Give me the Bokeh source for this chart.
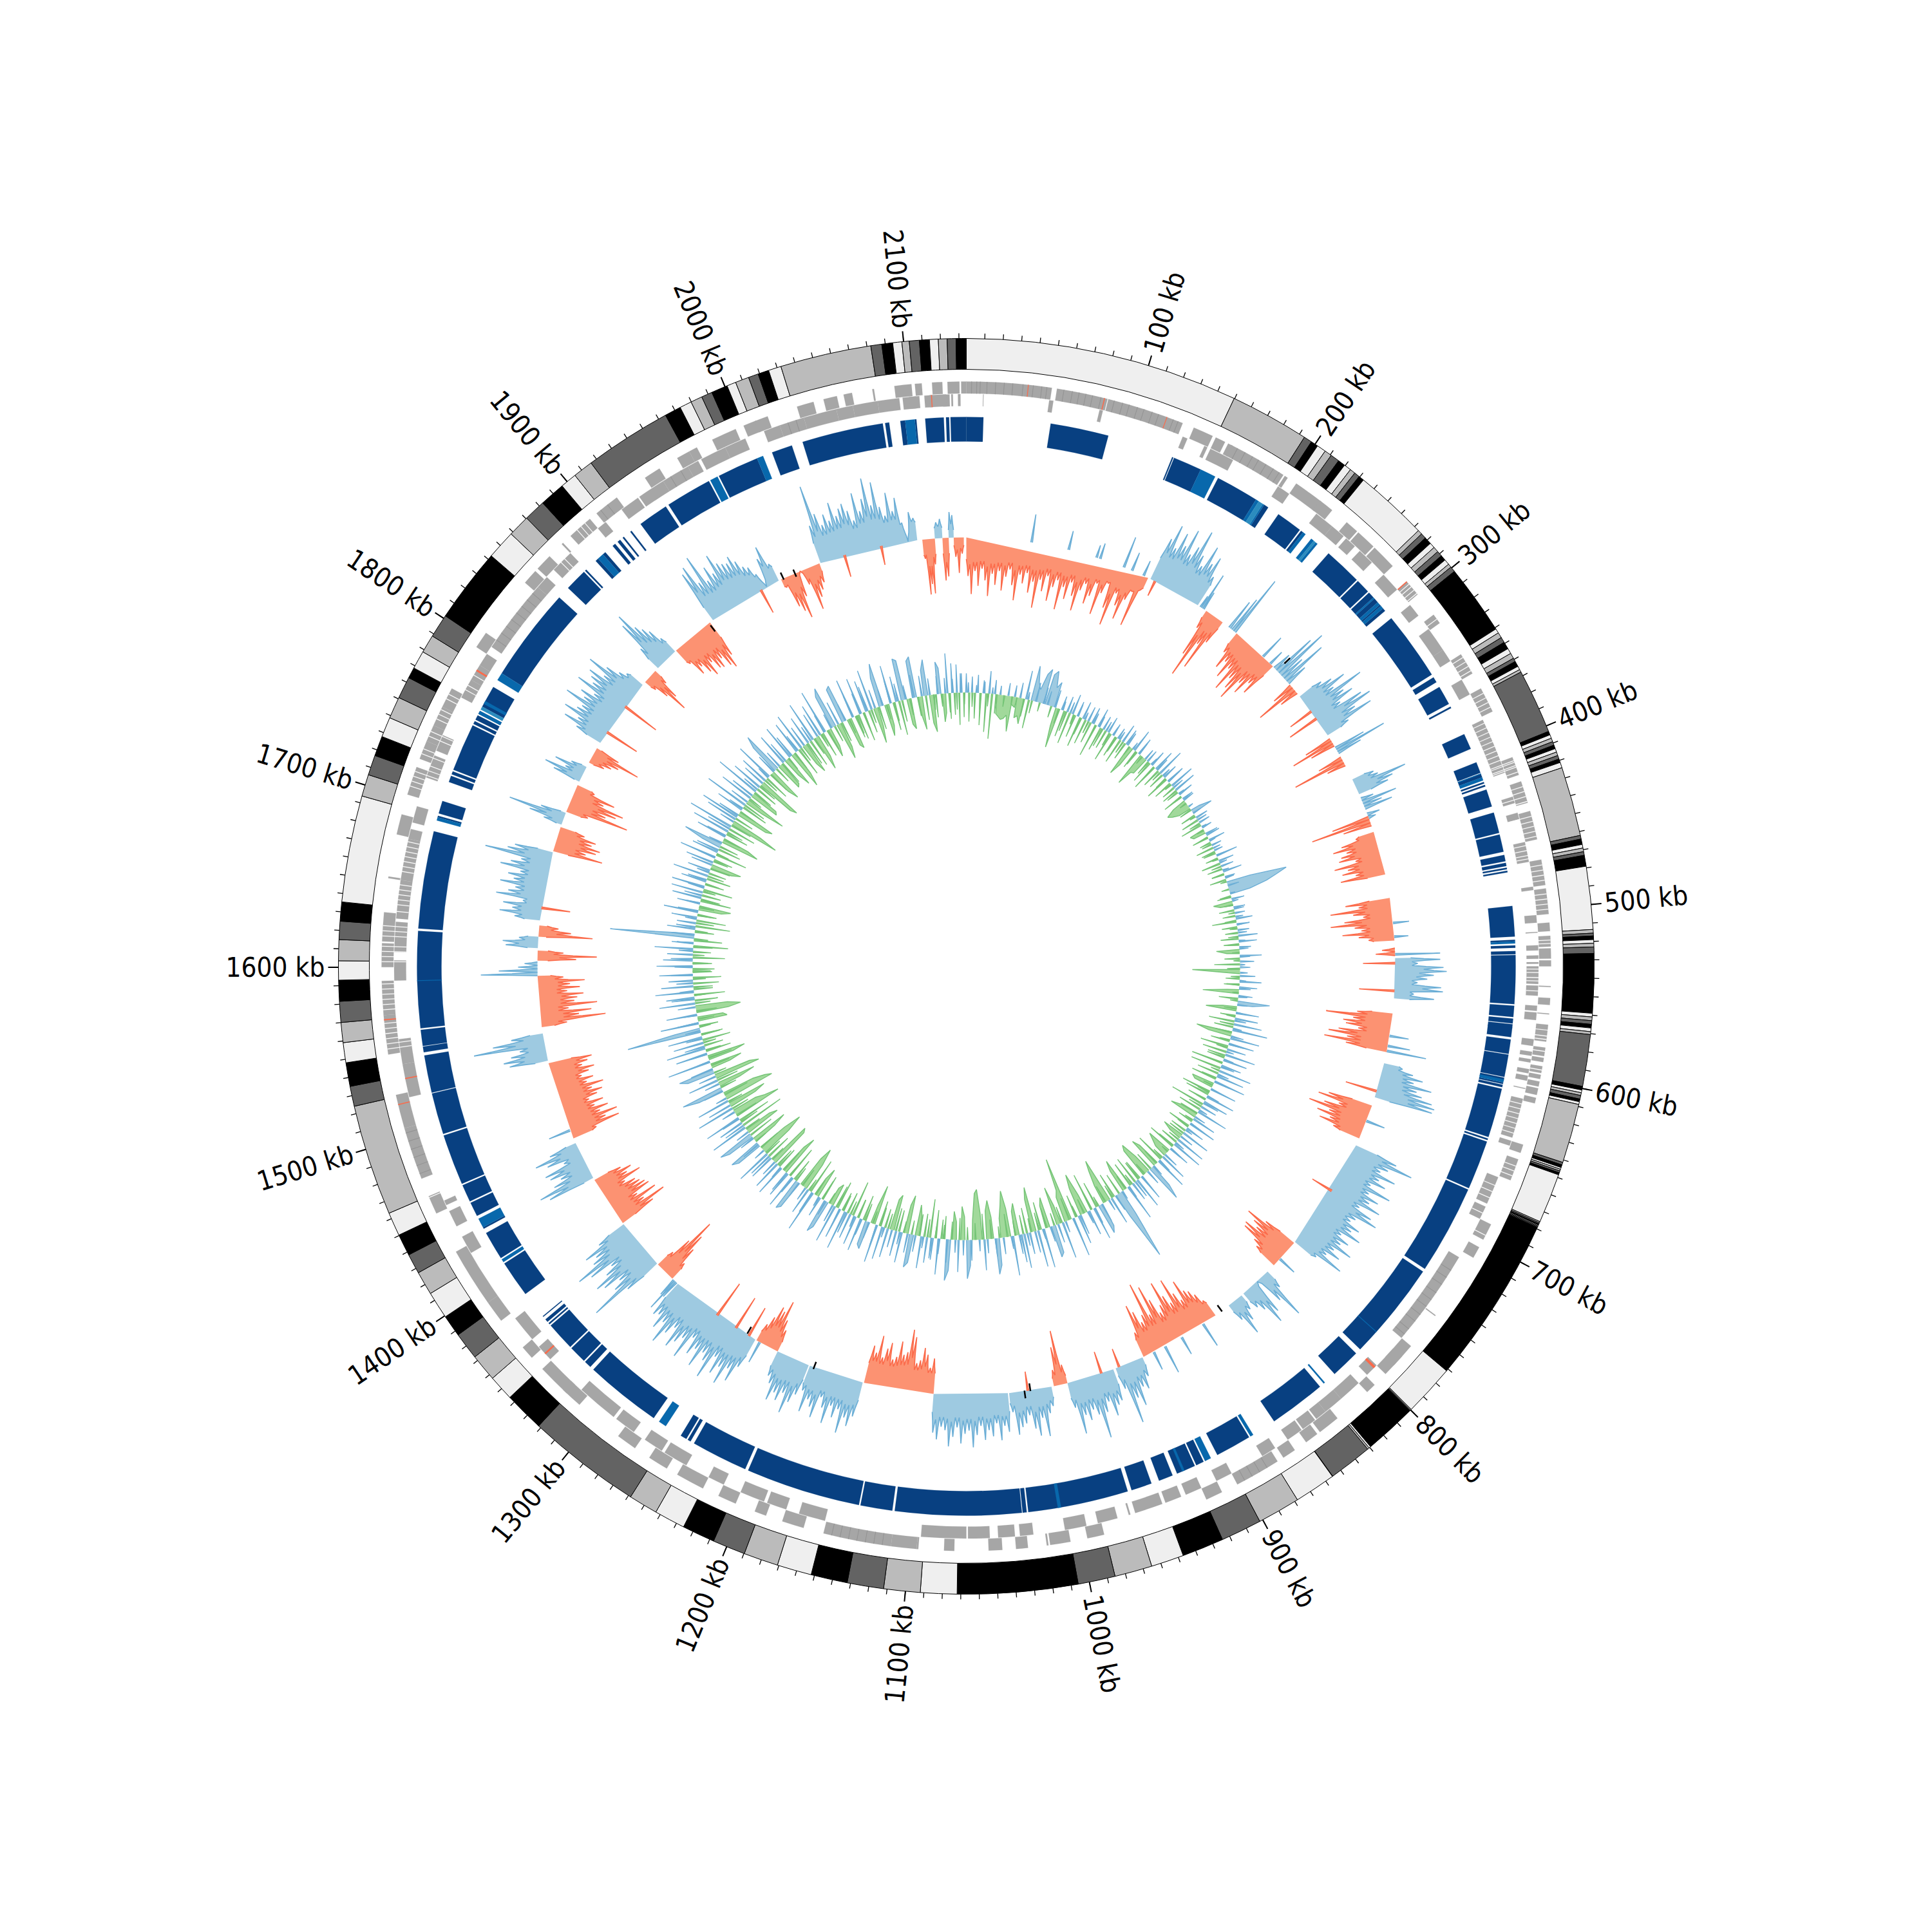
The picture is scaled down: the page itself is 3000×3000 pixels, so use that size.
import numpy as np
from bokeh.plotting import figure
from bokeh.models import ColumnDataSource
from bokeh.core.properties import value
from bokeh.embed import file_html
from bokeh.resources import INLINE

GENOME_KB = 2138.0
TICK_GENOME_KB = 2134.0
tick_labels = [f"{k} kb" for k in range(100, 2200, 100)]
tick_major = list(range(100, 2200, 100))
tick_minor = list(range(10, 2140, 10))

contig_ends = [150,193.5,198,202,207,211,216,220,224,227,230,233,273.5,276,279,283,286,289,292,295,298,300,303,341.5,
 344,347,350,354,357,360,362,365,367,368.5,404,406,408,410,412,414,416,418,420,422,425,463,465,468,470,472,474,480,514.5,
 516.5,518,520,522,524,527.5,560,562,564,566,568,570,571.6,600,602,603.5,605,607,608.5,610,642.6,644,645.5,646.5,647.5,648.5,649.7,
 677,677.7,678.4,679,679.5,680,680.5,772.7,801,801.5,802,831,832,833,857,857.2,880,903.5,926,949,967,987.6,1008,1074,1094,1114,1134,1154,
 1173,1192,1210,1228,1245,1261,1324,1346,1360,1375,1390,1402,1417,1430,1441,1453,1466,1527,1538,1551,1562,1573,1584.5,1596,1606.5,1618,
 1628,1638.5,1697,1709,1720,1731,1742,1754,1766,1772,1782,1792,1805,1846,1862,1874,1886,1900,1909,1920,1968,1977,1983.6,1990,1996,2005,
 2010,2017.5,2023,2029,2036,2086,2092,2098,2103,2107,2112.5,2118,2122.8,2127.6,2132.4,2138]
contig_colors = ["#efefef", "#bbbbbb", "#636363", "#000000"]

gene_outer = [(2135,2138),(0,50),(53,83),(83.5,129),(136,148),(150,156),(158,161),(160,195),(196,198),(204,222),(221,230),(241,249),(250,262),(263,278),
 (290,300),(315,321),(343,356),(366,381),(410,421),(425,438),(443,460),(472,487),(489,504),(509,514),(516.7,523),(524,530),(531,534.5),(546,546.6),(553,557),
 (562,562.5),(568.6,571.5),(572,578.5),(582,587),(588,590.5),(593,597),(598,600.5),(602,605),(606,610),(611.7,615),(640,645),(649,662),(690,700),(705,712),
 (752,752.6),(775,790),(783,797),(806,812),(835,848),(850,858),(866,874),(878,905),(915,925),(988,998),(1008,1020),(1021,1022),(1033,1040),(1048,1056),
 (1076,1082),(1097,1098),(1098,1113),(1113,1153),(1165,1178),(1188,1195),(1207,1218),(1228,1245),(1252,1264),(1274,1286),(1315,1328),(1325,1345),(1354,1362),
 (1382,1395),(1395,1430),(1455,1466),(1477,1508),(1508,1528),(1552,1575),(1575,1595),(1603,1617),(1618,1635),(1655,1656),(1681,1693),(1705,1722),(1727,1738),
 (1738,1748),(1748,1760),(1760,1772),(1800,1810),(1847,1856),(1858,1868),(1878,1879),(1885,1900),(1905,1920),(1940,1950),(1962,1970),(1970,1975),(1985,2000),
 (2005,2013),(2012,2020),(2038,2048),(2054,2062),(2066,2071),(2083,2084),(2096,2106),(2108,2112),(2118,2124),(2127,2134)]
gene_inner = [(2100,2108),(2113,2118),(2124,2128),(2129,2130),(2133,2134.5),(10,10.3),(49.5,52),(80,82),(132,135),(146,148),(150,165),(196,204),(224,236),(236,245),
 (247,254),(258,268),(278,290),(302,310),(320,335),(335,343),(356,366),(383,417),(432,436),(442,446),(460,472),(487,489),(504,508.5),(514,514.5),(522,525),(528,530),
 (532,533),(534.5,545),(546,552),(558,561),(562,566.5),(578,582),(585.5,588),(590,592),(596,598.5),(600,603),(607.5,608),(614,638),(640,643),(663,680),(682,690),
 (716,775),(797,805),(812,826),(826,838),(838,845),(846,855),(856,866),(875,884),(905,915),(925,935),(938,948),(950,967),(970,971),(978,990),(997,1010),(1029,1037),
 (1040,1050),(1055,1068),(1069,1096),(1154,1170),(1178,1190),(1192,1207),(1218,1228),(1243,1258),(1260,1272),(1280,1293),(1295,1320),(1346,1356),(1362,1378),
 (1425,1436),(1443,1453),(1457,1460),(1525,1545),(1545,1560),(1595,1607),(1612,1630),(1632,1655),(1655,1680),(1680,1686),(1690,1700),(1718,1732),(1735,1745),
 (1770,1782),(1782,1792),(1792,1800),(1805,1850),(1850,1858),(1864,1878),(1900,1906),(1918,1930),(1931,1948),(1948,1965),(1965,1972),(1974,1990),(1990,2003),
 (2015,2025),(2025,2040),(2040,2060),(2060,2070),(2070,2085),(2085,2098),(2104,2110),(2116,2126)]
gene_red_outer = [(36,36.4),(81,81.5),(119,119.4),(290,290.6),(1522,1522.5),(1572,1572.6)]
gene_red_inner = [(2117,2117.5),(798,799.5),(1350,1351),(1536,1536.6),(1788,1789)]
gene_white = [292,294,296.5,299,318,345,348,351,354,369,372,375,378,385,388,391,394,397,400,403,406,409,412,415,413,416,419,428,431,434,437,446,449,452,455,458,
 462,465,468,470,475,478,481,484,492,495,498,501,519,521,536,538,541,543,549,575,577,584,595,617,620,623,626,629,632,635,653,656,659,668,672,676,686,697,
 1465,1555,1558,1561,1564,1567,1570,1578,1581,1584,1587,1590,1593,1606,1609,1612,1615,1621,1624,1627,1636,1640,1643,1646,1649,1652,1660,1663,1666,1669,1672,1675,1678,
 1710,1713,1716,1719,1722,1725,1730,1733,1741,1744,1752,1755,1758,1765,1768,1775,1778,1785,1870,1873,1890,1893,1896]
gene_dark_outer = [3,6,8,12,17,22,27,33,39,44,47,57,62,66,70,74,79,87,92,96,101,105,110,114,123,126,164,169,174,178,183,188,192,885,890,895,900,1118,1123,1128,1133,1138,1143,1148,1480,1485,1490,1495,1500,1505,1890,1908,1913]
gene_dark_inner = [725,730,735,741,746,751,757,762,768,772,1810,1815,1820,1825,1830,1835,1840,1845,1953,1960,2030,2035]

blue_main = [(0,10.6),(52.5,89),(130.7,131.5),(132,150),(162,189),(195,198),(205.6,222),(223,224.5),(245,269),(270,279),(280,284),(285,288),(290,291),(293,295),
 (301,344),(346,349.5),(353,365),(367,368),(386,396),(405,412),(412.5,415),(418,419),(420,421),(423,434),(438,451),(452,463),(465,469),(470,472),(473,474),(475,476),(497,516),
 (518,519),(521.5,523),(525,527),(527.5,558),(559,566),(567,570),(570.5,573),(572.5,578.5),(580,589),(589.5,603.5),(604,606),(607,608),(608.5,610),(611,642),(643,644),(645,676),(677,733),
 (735,797),(800.6,819),(831,866.6),(885,907.5),(917,922),(923,935),(938,947),(952,965),(967.5,1030.5),(1031.5,1034),(1034.5,1113.5),(1115,1135),(1136,1208),(1210,1245.5),(1248,1250),
 (1251,1255),(1275,1323),(1325.5,1330),(1331,1342),(1343,1361),(1362,1363),(1364,1366),(1368,1368.6),(1386,1409),(1413,1431),(1434,1435),(1443,1452),(1453,1464),(1465,1497),(1498,1524),(1524.5,1548),(1550,1553.6),
 (1554,1564),(1565,1625.5),(1627,1688),(1697,1698),(1699.5,1707.5),(1720,1724),(1725,1727),(1728,1758),(1759,1761),(1762,1765),(1766,1768),(1771,1785),(1795,1854),(1862,1876),(1877,1878),(1886,1888),
 (1892,1894),(1900,1902),(1904,1906),(1908,1909),(1914,1915),(1922,1941),(1943,1972),(1979,2005),(2015,2028),(2035,2086),(2087.5,2090),(2097,2100),(2106,2107),(2112.5,2124),(2125.4,2127.3),(2128.2,2138)]
blue_mid = [(150,160),(189,191),(194,195),(224.5,226.5),(231,233),(234.5,236),(284,285),(288,290),(291,293),(412.5,413),(415,417),(519,520.3),(605,607),(782,782.5),(827,828),(882,884),(912,916),(930,931.5),
 (1010,1012),(1266,1271),(1410,1412),(1435,1441),(1594.4,1594.8),(1695,1697),(1773,1775),(1790,1795),(1888,1892),(1973,1978),(2005,2009),(2100,2106),(1766,1768)]
blue_light = [(191,194),(233,234.5),(1769,1771)]

mid_start = [0,151,196,202,224,227,232,272,291,303,344,352,361,381,397,410,413,426,480,520,528,572,612,647,681,773,804,832,858,925,950,988,1001,1036,1095,1152,1197,1224,1244,1321,1326,1343,1385,1428,1463,1528,1555,1596,1608,1618,1627,1640,1696,1718,1729,1755,1772,1790,1850,1865,1885,1923,1986,2020,2103,2113,2119,2124,2128]
mid_end = [149,194,200,218,226,231,271,290,300,341,351,358,369,394,407,415,421,461,514,526,560,603,640,675,772,797,830,845,924,948,988,999,1035,1095,1151,1196,1224,1243,1320,1325,1342,1384,1426,1459,1526,1550,1596,1607,1616,1627,1636,1695,1716,1728,1752,1768,1785,1847,1862,1884,1920,1984,2019,2099,2113,2119,2124,2128,2136]
mid_sign = [-1,1,1,-1,1,1,-1,1,-1,1,-1,1,-1,1,1,1,-1,-1,-1,-1,1,-1,1,-1,1,-1,1,1,-1,1,1,-1,1,1,-1,1,1,-1,1,1,-1,1,-1,1,-1,1,-1,1,-1,1,-1,1,-1,1,-1,1,-1,1,-1,1,-1,1,-1,1,-1,1,-1,1,-1]
mid_floor = [42,45,0,15,0,0,25,0,0,30,0,0,0,25,0,0,0,35,40,0,30,40,30,40,45,35,20,15,35,15,30,15,20,35,40,35,30,20,35,0,25,35,30,20,45,25,25,0,20,20,15,30,30,10,30,10,10,30,15,25,35,30,15,40,30,20,30,15,15]
mid_vals = [
 [60,88,52,75,48,66,90,55,72,50,80,58,46,70,93,52,65,48,78,60,100,55,72,47,85,62,50,95,58,76,48,68,90,56,44,74,60,38,86,50,32,70,96,42,60,80,46,30,84,22],
 [70,95,60,88,70,100,62,78,108,70,55,92,66,80,50],
 [20,60,30],[30,75,110,50,90,40],[50],[60,100],
 [35,60,45,70,50,85,60,75,90,55,70,45,60],
 [30,70,88,40,75,35],[35,68,30],
 [40,55,75,50,97,60,72,45,80,92,60,85,40],
 [45,70,40],[50,84,40],[40,84,30],[35,40,84,60,50],[20,56,30,45],[20,12],[60,95,45],
 [30,55,70,50,60,65,40,75,55,65,45,70],
 [70,50,95,60,45,75,97,60,50,80,55,40],
 [20,30],
 [70,35,75,80,60,50,35,72,75,30,62],
 [55,103,60,75,70,50,80,95,65,100,65],
 [30,48,65,52,82,60,70,88,94,92],
 [70,85,50,72,95,60,78,55,70,45],
 [70,99,62,52,80,56,70,48,85,52,72,60,82,50,75,88,55,50,70,60,80,50,68,58,82,55,70,50,83,40],
 [55,86,70,60,78,75,50,40],
 [30,80,45,0,55,70,40,30],
 [25,40,60,30],
 [30,45,55,60,80,50,65,92,55,70,96,60,50,75,100,55,110,60,50,70,83,40],
 [30,48,42,70,55,93,35],
 [50,55,70,45,60,99,60,50,65,55,83,40],
 [30,85,60,25],
 [30,40,75,45,72,60,38,50,55,66,30],
 [60,50,72,45,65,55,70,48,62,81,55,60,75,50,65,80,55,50,70,60],
 [55,40,60,70,50,45,85,96,60,55,75,50,45,70,60,45,78,50,60],
 [55,72,60,86,50,65,48,78,55,40,75,60,50,72,40],
 [50,65,85,55,70,60,75,50,40],
 [35,50,79,60,65,45,30],
 [50,78,60,90,65,80,55,95,70,60,88,62,75,50,90,60,72,85,55,70,92,60,75,55,60],
 [30,55,30],
 [30,55,78,101,60,30],
 [60,121,75,60,85,95,70,55,90,109,75,65,80,50],
 [60,84,50,75,45,70,66,60,55,40,70,50,60,45],
 [75,88,60,45,60,65,30,55,72,45],
 [40,80,60,81,55,70,50,66,45,60,70,55,75,50,62,45,58,68,50,60,68],
 [60,68,55,40,111,80,50],
 [40,101,60,80,45,90,55,60,70,45,65,50,73,40],
 [88,60,30,20],
 [60,92,40],[50,55,30],[84,50,30],
 [40,64,45,60,30,73,55,45,70,50,60,42,75,60,45,104,70,60],
 [78,50,65,70,55,60,40],
 [30,55,90,40],
 [35,98,60,75,85,50,66,30],
 [45,62,30,50,25],
 [25,35,45,77,40],
 [45,70,50,78,60,55,88,60,70,50,85,62,70,78,55,88,60,40,30],
 [20,40,72,50,25],
 [40,85,99,70,60,50,30],
 [30,55,45,60,70,50,65,68,55,72,79,60],
 [85,93,60,102,55,75,60,88,70,65,62,70,58,45,40,25,0,45,62,30],
 [15,50,60,73,40,0,25,68,50,40,30],
 [60,122,75,55,70,58,85,62,72,78,65,48,90,60,78,109,65,100,60,45,80,50,70,30,0,45,35],
 [30,86,70,85,40],[25,30],[66,60],[40,35],[30,55,25]]

cross_kb = [52,82,105,108,128,135,145,155,260,268,318,325,500,511,532,554,590,598,602,635,660,722,790,870,890,905,915,945,960,1020,1240,1250,1262,1280,1470,1650,1800,1825,1968,2040,2070,525]
cross_val = [44,30,20,25,50,30,25,-25,40,25,-40,-50,25,22,-50,-55,30,35,62,-50,30,-35,30,40,30,45,30,-30,-35,-30,35,-50,-55,-60,35,-45,-55,-60,-40,-35,-30,70]

black_kb = [275.6,852,1022.7,1018,1252,1192.5,1988,1998,1919]
black_r = [688,661,671,661,658,663,670,666,656]

inner_vals = [
 [30,-45,25,-40,28,-50,20,-60,35,-70,22,-30,-34,-38,-36,-30,-55,18,-32,-28,-40,45,-45,55,30,20,46,55],
 [48,55,30,40,-30,-63,22,-42,25,-50,32,-36,20,-48,28,-40,24,-34,18,-52,30,-38,22,-30,26,-46,20,-34],
 [18,-40,30,-28,22,-50,-32,36,-24,28,-54,-30,-28,20,-36,26,-42,34,-30,44,-26,24,-38,30,-30,40,-22,36],
 [-20,24,-32,18,-22,-36,-30,-20,14,34,-24,20,-28,18,-34,16,-24,-20,22,-26,26,-18,16,-28,14,-20,34,-20],
 [24,-30,20,-24,30,-20,16,-26,38,95,78,60,32,-18,20,-30,-20,18,-24,16,-20,26,-38,20,-24,18,-20,30],
 [-28,28,-24,18,-36,-20,34,-24,22,-40,16,-74,-18,24,-22,34,-20,28,-18,-56,22,-30,50,24,-22,-48,36,-24],
 [36,-40,44,-30,55,-56,-36,46,-30,40,-44,30,-38,48,-28,38,-50,32,-48,52,-34,44,-40,50,-36,-30,42,-46],
 [-38,46,-30,40,-54,26,-36,50,-28,-44,38,-24,44,-36,30,-26,46,-34,-20,48,-28,50,-44,34,-40,-30,-20,44],
 [-46,52,-38,-50,38,60,-30,-56,-48,42,-32,50,-44,30,-40,58,-52,-36,40,114,40,-40,44,-70,-54,-30,38,48],
 [-42,52,-60,40,-30,-66,-44,46,-36,62,-100,-50,-40,58,-30,-60,44,50,-48,-36,62,-44,58,-70,-52,34,-40,54],
 [44,-50,-38,62,-44,-72,-50,-30,42,56,-34,-60,-44,48,-40,-78,-72,-30,40,60,-36,-52,50,-28,-44,48,64,-36],
 [-30,56,-44,34,-60,40,-36,50,-30,-48,44,52,-60,-44,48,-34,40,-56,-48,46,-30,52,-40,60,-62,-30,44,38],
 [-40,52,-30,46,-56,40,-34,62,-30,48,-44,60,-36,-28,44,54,-40,32,-48,-30,66,-56,42,-44,-70,-50,46,52],
 [-36,54,-52,42,-66,-48,50,-34,46,-64,-70,40,-40,56,-50,-76,-48,42,52,-38,-60,44,58,-56,-44,60,-70,40],
 [-52,58,-76,-54,-40,60,-44,-62,52,-80,-70,-50,40,66,-34,-60,48,-72,-58,44,56,-30,-50,68,-40,-60,50,-40],
 [62,-30,48,-44,54,-34,116,40,-30,60,-46,-40,48,-50,-70,-50,56,-36,44,-48,60,-30,50,-40,38,-44,52,-30],
 [-34,56,-30,46,-50,40,-28,60,-54,34,-44,131,30,-30,44,-54,30,-46,40,-30,54,-36,-50,36,-48,46,-30,50],
 [-46,52,-30,40,-38,56,-28,36,-34,-48,44,-30,58,-50,42,-36,30,62,-60,-42,48,-36,60,-44,72,-78,-48,50],
 [62,-50,-60,44,-42,70,-30,-66,54,-48,-44,72,-36,50,-60,-70,46,-40,62,-38,-54,48,66,-44,-40,52,-30,-50],
 [56,-60,-40,52,-46,60,-34,-50,46,-44,64,-56,-36,52,-40,70,-46,-30,54,66,-58,-40,56,60,-44,-50,62,-36],
 [-40,58,-46,50,-36,64,-56,-30,46,68,-50,-34,60,-44,40,-54,66,62,-40,-48,58,64,-30,-52,40,56,-44,-58],
 [-36,50,40,-44,-30,62,-40,46,-34,44,-50,30,-38]]
inner_minor = [
 [16,-22,12,-26,18,-20,10,-30,14,-18,20,-12,-16,24,-28,12,-20,30,-14,26],
 [22,-18,28,-24,14,-32,18,-16,24,-28,12,-20,26,-14,18,-30,16,-22,14,-26],
 [14,-20,26,-16,12,-30,20,-14,18,-24,12,-28,22,-16,14,-20,24,-12,18,-26],
 [10,-14,18,-12,8,-20,14,-10,16,-18,8,-12,20,-14,10,-16,12,-22,14,-10],
 [12,-16,10,-20,14,-10,18,-12,8,-22,10,-14,16,-10,12,-18,8,-12,14,-16],
 [10,-18,14,-12,16,-10,8,-20,12,-14,10,-24,18,-10,14,-12,16,-20,10,-14],
 [18,-22,14,-26,20,-16,24,-18,12,-28,16,-20,22,-14,18,-24,26,-16,14,-20],
 [20,-16,26,-22,14,-30,18,-14,24,-20,12,-26,22,-18,16,-28,20,-12,24,-18],
 [22,-26,18,-30,24,-20,16,-32,28,-18,20,-24,14,-34,26,-22,18,-28,30,-16],
 [26,-30,20,-24,32,-18,22,-36,18,-26,30,-20,24,-32,16,-28,34,-22,20,-30],
 [30,-24,20,-36,26,-18,28,-30,22,-40,18,-26,32,-20,24,-34,20,-28,36,-22],
 [24,-20,32,-28,18,-34,26,-22,30,-18,20,-36,28,-24,16,-30,34,-20,26,-28],
 [26,-30,18,-22,34,-26,20,-36,28,-18,24,-32,16,-28,36,-20,22,-30,26,-24],
 [28,-22,34,-36,20,-30,26,-24,38,-28,18,-34,30,-20,24,-40,22,-26,34,-30],
 [30,-36,22,-28,38,-24,18,-40,32,-26,24,-34,28,-20,36,-30,20,-38,26,-24],
 [32,-20,26,-30,24,-18,34,-26,20,-32,28,-24,36,-18,22,-30,26,-20,34,-28],
 [28,-24,34,-18,22,-30,26,-22,36,-20,30,-28,18,-26,32,-24,22,-30,28,-20],
 [26,-22,30,-26,20,-32,34,-24,28,-20,36,-30,22,-28,32,-26,38,-34,24,-30],
 [34,-28,24,-36,30,-22,38,-32,26,-30,36,-24,20,-34,32,-26,28,-38,34,-22],
 [36,-30,28,-24,34,-38,26,-28,40,-22,30,-34,24,-26,38,-32,28,-24,36,-30],
 [34,-28,40,-22,30,-36,26,-24,38,-30,28,-34,22,-26,36,-30,32,-38,26,-24],
 [28,-20,24,-30,22,-26,30,-18]]

R_OUT, R_IN = 975, 927
GENE_A, GENE_B, GENE_C = 908, 889, 870
BLUE_OUT, BLUE_IN = 853, 815
MID_BASE, INNER_BASE = 666, 425
DEG = 360.0 / GENOME_KB
TICK_DEG = 360.0 / TICK_GENOME_KB


def theta(kb):
    return np.radians(np.asarray(kb, dtype=float) * DEG)


def polar(kb, r):
    t = theta(kb)
    return np.asarray(r) * np.sin(t), np.asarray(r) * np.cos(t)


def tick_polar(kb, r):
    t = np.radians(np.asarray(kb, dtype=float) * TICK_DEG)
    return np.asarray(r) * np.sin(t), np.asarray(r) * np.cos(t)


p = figure(width=2984, height=2984, x_range=(-1500, 1484), y_range=(-1484, 1500),
           output_backend="svg", toolbar_location=None, min_border=0)
p.axis.visible = False
p.grid.visible = False
p.outline_line_color = None
p.background_fill_color = "white"


def wedges(intervals, r0, r1, color, line=None, lw=1, colors=None):
    s = np.array([i[0] for i in intervals], dtype=float)
    e = np.array([i[1] for i in intervals], dtype=float)
    src = ColumnDataSource(dict(x=np.zeros(len(s)), y=np.zeros(len(s)),
                                a0=np.pi / 2 - theta(s), a1=np.pi / 2 - theta(e),
                                c=colors if colors is not None else [color] * len(s)))
    p.annular_wedge(x="x", y="y", inner_radius=r0, outer_radius=r1, start_angle="a0", end_angle="a1",
                    direction="clock", fill_color="c", line_color=line if line else "c",
                    line_width=lw if line else 0.2, source=src)


# contigs
starts = [0.0] + contig_ends[:-1]
cols = [contig_colors[i % 4] for i in range(len(contig_ends))]
wedges(list(zip(starts, contig_ends)), R_IN, R_OUT, None, line="#000000", lw=1, colors=cols)

# ticks
for kbs, ln, lw in ((tick_minor, 8, 1.3), (tick_major, 16, 2.0)):
    xs, ys = [], []
    for k in kbs:
        x, y = tick_polar([k, k], [R_OUT, R_OUT + ln])
        xs.append(list(x)); ys.append(list(y))
    p.multi_line(xs, ys, line_color="#000000", line_width=lw)

# labels
lab_kb = np.array(tick_major, dtype=float)
lx, ly = tick_polar(lab_kb, 996.0)
angs = [np.radians(90 - k * TICK_DEG) if k * TICK_DEG < 180 else np.radians(270 - k * TICK_DEG) for k in lab_kb]
aligns = ["left" if k * TICK_DEG < 180 else "right" for k in lab_kb]
p.text(lx, ly, text=tick_labels, angle=angs, text_align=aligns, text_baseline="middle",
       text_font=value("DejaVu Sans Condensed"), text_font_size="42px", text_color="#000000")

# genes
wedges(gene_outer, GENE_B + 0.5, GENE_A, "#a6a6a6")
wedges(gene_inner, GENE_C, GENE_B - 0.5, "#a6a6a6")
wedges([(k, k + 0.25) for k in gene_dark_outer], GENE_B + 0.5, GENE_A, "#909090")
wedges([(k, k + 0.25) for k in gene_dark_inner], GENE_C, GENE_B - 0.5, "#909090")
wedges([(k, k + 0.4) for k in gene_white], GENE_C, GENE_A, "#ffffff")
wedges(gene_red_outer, GENE_B + 0.5, GENE_A, "#fb6a4a")
wedges(gene_red_inner, GENE_C, GENE_B - 0.5, "#fb6a4a")

# blue track
wedges(blue_main, BLUE_IN, BLUE_OUT, "#084081")
wedges(blue_mid, BLUE_IN, BLUE_OUT, "#0868ac")
wedges(blue_light, BLUE_IN, BLUE_OUT, "#2b8cbe")


def shape(kb_pts, v_pts, base):
    x, y = polar(kb_pts, base + np.asarray(v_pts, dtype=float))
    return list(x), list(y)


def draw(fill_polys, strokes, fill, stroke, lw=1.6):
    if fill_polys:
        p.patches([a[0] for a in fill_polys], [a[1] for a in fill_polys], fill_color=fill, line_color=None)
    if strokes:
        p.multi_line([a[0] for a in strokes], [a[1] for a in strokes], line_color=stroke, line_width=lw)


# middle track
polys = {1: [], -1: []}
lines = {1: [], -1: []}
for s, e, sg, floor, vals in zip(mid_start, mid_end, mid_sign, mid_floor, mid_vals):
    n = len(vals)
    step = (e - s) / n
    kp, vp = [s, s], [0.0, min(floor, vals[0]) * 0.8]
    for i, v in enumerate(vals):
        k = s + (i + 0.5) * step
        left = vp[-1]
        if floor > 0 and i + 1 < n:
            right = 0.35 * floor + 0.45 * min(v, vals[i + 1])
        elif i + 1 < n:
            right = 0.0
        else:
            right = min(floor, v) * 0.8
        kp += [k - 0.22 * step, k, k + 0.22 * step, k + 0.5 * step]
        vp += [left + 0.45 * (v - left), v, right + 0.45 * (v - right), right]
    kp.append(e); vp.append(0.0)
    vp = [sg * a for a in vp]
    polys[sg].append(shape(kp, vp, MID_BASE))
    lines[sg].append(shape(kp[1:-1], vp[1:-1], MID_BASE))
for k, v in zip(cross_kb, cross_val):
    sg = 1 if v > 0 else -1
    polys[sg].append(shape([k - 0.7, k, k + 0.7], [0, v, 0], MID_BASE))
    lines[sg].append(shape([k - 0.7, k, k + 0.7], [0, v, 0], MID_BASE))
draw(polys[1], lines[1], "#9ecae1", "#6baed6")
draw(polys[-1], lines[-1], "#fc9272", "#fb6a4a")
for k, r in zip(black_kb, black_r):
    x, y = polar([k, k], [r - 6, r + 6])
    p.line(list(x), list(y), line_color="#000000", line_width=2.5)

# inner track
ip = {1: [], -1: []}
il = {1: [], -1: []}
for group, frac in ((inner_minor, 0.15), (inner_vals, 0.24)):
    for i, vals in enumerate(group):
        s = i * 100.0
        e = min(s + 100.0, GENOME_KB)
        kb = np.linspace(s, e, len(vals), endpoint=False)
        if group is inner_minor:
            kb = kb + 0.5 * (kb[1] - kb[0])
        step = kb[1] - kb[0]
        j = 0
        while j < len(vals):
            k = j
            while k + 1 < len(vals) and (vals[k + 1] > 0) == (vals[j] > 0):
                k += 1
            sg = 1 if vals[j] > 0 else -1
            run_kb = np.r_[kb[j] - frac * step, kb[j:k + 1], kb[k] + frac * step]
            run_v = np.r_[0.0, np.array(vals[j:k + 1], dtype=float), 0.0]
            ip[sg].append(shape(run_kb, run_v, INNER_BASE))
            il[sg].append(shape(run_kb, run_v, INNER_BASE))
            j = k + 1
draw(ip[1], il[1], "#9ecae1", "#6baed6", lw=1.4)
draw(ip[-1], il[-1], "#a1d99b", "#74c476", lw=1.4)

open("out.html", "w").write(file_html(p, INLINE))
